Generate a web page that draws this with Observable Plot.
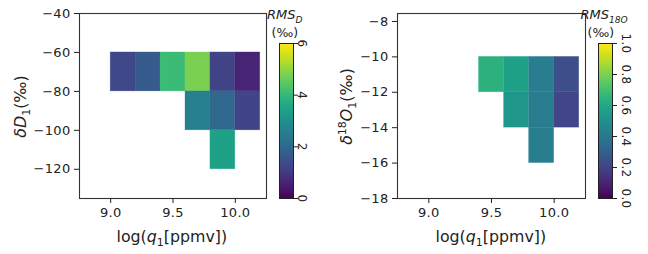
<!DOCTYPE html>
<html>
<head>
<meta charset="utf-8">
<script src="https://cdn.jsdelivr.net/npm/d3@7"></script>
<script src="https://cdn.jsdelivr.net/npm/@observablehq/plot@0.6"></script>
<style>
  html, body { margin: 0; padding: 0; background: white; }
  #fig { position: relative; width: 648px; height: 254px; font-family: "DejaVu Sans", sans-serif; color: #222; overflow: hidden; }
  .lbl { position: absolute; white-space: nowrap; transform-origin: center center; }
  sub, sup { font-size: 70%; line-height: 0; }
</style>
</head>
<body>
<div id="fig"></div>
<script>
// ---- Data ----
// Left panel: deltaD
const xTicks = [9.0, 9.5, 10.0];
const dTicks = [-120, -100, -80, -60, -40];
const dBinX = 0.2, dBinY = 20;
const dCellX = [9.0, 9.2, 9.4, 9.6, 9.8, 10.0, 9.6, 9.8, 10.0, 9.8];
const dCellY = [-60, -60, -60, -60, -60, -60, -80, -80, -80, -100]; // top of bin
const dRMS   = [1.3, 1.7, 4.1, 4.8, 1.2, 0.6, 2.6, 2.0, 1.2, 3.4];
const dColorTicks = [0, 2, 4, 6];

// Right panel: delta18O
const oTicks = [-18, -16, -14, -12, -10, -8];
const oBinX = 0.2, oBinY = 2;
const oCellX = [9.4, 9.6, 9.8, 10.0, 9.6, 9.8, 10.0, 9.8];
const oCellY = [-10, -10, -10, -10, -12, -12, -12, -14]; // top of bin
const oRMS   = [0.64, 0.57, 0.42, 0.24, 0.53, 0.42, 0.21, 0.42];
const oColorTicks = [0.0, 0.2, 0.4, 0.6, 0.8, 1.0];

const dCells = dCellX.map((x, i) => ({x, y: dCellY[i], v: dRMS[i]}));
const oCells = oCellX.map((x, i) => ({x, y: oCellY[i], v: oRMS[i]}));

const fig = document.getElementById("fig");
const style = {fontFamily: "DejaVu Sans", fontSize: "13px", color: "#222", background: "transparent", letterSpacing: "0.3px"};
const fmtInt = d3.format("d");
const fmt1 = d3.format(".1f");

function place(el, left, top) {
  el.style.position = "absolute";
  el.style.left = left + "px";
  el.style.top = top + "px";
  fig.appendChild(el);
}

function panel({cells, binX, binY, yDomain, yTicks, cmax, width, ml, mr}) {
  return Plot.plot({
    width, height: 254, marginLeft: ml, marginRight: mr, marginTop: 13, marginBottom: 56,
    style,
    x: {domain: [8.75, 10.25]},
    y: {domain: yDomain},
    color: {type: "linear", scheme: "viridis", domain: [0, cmax]},
    marks: [
      Plot.rect(cells, {x1: "x", x2: d => d.x + binX, y1: "y", y2: d => d.y - binY, fill: "v", stroke: "v", strokeOpacity: 0.4, strokeWidth: 0.6}),
      Plot.frame({stroke: "#333", strokeWidth: 1.1}),
      Plot.axisX({ticks: xTicks, tickFormat: fmt1, tickSize: 5, tickPadding: 4, label: null}),
      Plot.axisY({ticks: yTicks, tickFormat: fmtInt, tickSize: 5, tickPadding: 4, label: null})
    ]
  });
}

function colorbar({cmax, ticks, fmt, ml, width, dx}) {
  return Plot.plot({
    width, height: 254, marginLeft: ml, marginRight: width - ml - 14, marginTop: 43, marginBottom: 56,
    style: {...style, fontSize: "12px"},
    x: {domain: [0, 1], axis: null},
    y: {domain: [0, cmax], axis: null},
    color: {type: "linear", scheme: "viridis", domain: [0, cmax]},
    marks: [
      Plot.raster({x1: 0, x2: 1, y1: 0, y2: cmax, width: 1, height: 256, fill: (x, y) => y, imageRendering: "auto"}),
      Plot.frame({stroke: "#222", strokeWidth: 1}),
      Plot.axisY({anchor: "right", ticks, tickFormat: () => "", tickSize: 4, label: null}),
      Plot.text(ticks, {y: d => d, frameAnchor: "right", dx, rotate: 90, text: d => fmt(d), textAnchor: "middle", lineAnchor: "middle", fill: "#222"})
    ]
  });
}

// Left
place(panel({cells: dCells, binX: dBinX, binY: dBinY, yDomain: [-135, -40], yTicks: dTicks, cmax: 6, width: 270, ml: 79, mr: 4}), 0, 0);
place(colorbar({cmax: 6, ticks: dColorTicks, fmt: fmtInt, ml: 9, width: 45, dx: 8}), 270, 0);
// Right
place(panel({cells: oCells, binX: oBinX, binY: oBinY, yDomain: [-18, -7.55], yTicks: oTicks, cmax: 1, width: 260, ml: 67, mr: 5}), 330, 0);
place(colorbar({cmax: 1, ticks: oColorTicks, fmt: fmt1, ml: 8, width: 50, dx: 13}), 590, 0);

// Labels (HTML for math-style italics, sub/superscripts)
function label(html, cx, cy, size, rot) {
  const el = document.createElement("div");
  el.className = "lbl";
  el.style.fontSize = size + "px";
  el.innerHTML = html;
  fig.appendChild(el);
  const w = el.offsetWidth, h = el.offsetHeight;
  el.style.left = (cx - w / 2) + "px";
  el.style.top = (cy - h / 2) + "px";
  if (rot) el.style.transform = `rotate(${rot}deg)`;
}
label('log(<i>q</i><sub>1</sub>[ppmv])', 172, 236, 15.8, 0);
label('log(<i>q</i><sub>1</sub>[ppmv])', 491, 236, 15.8, 0);
label('<i>δD</i><sub>1</sub>(‰)', 20, 106, 15.8, -90);
label('<i>δ</i><sup>18</sup><i>O</i><sub>1</sub>(‰)', 346, 106, 15.8, -90);
label('<i>RMS</i><sub><i>D</i></sub>', 285, 14, 13, 0);
label('(‰)', 285, 32, 12.5, 0);
label('<i>RMS</i><sub><i>18O</i></sub>', 604, 14, 13, 0);
label('(‰)', 601, 32, 12.5, 0);
</script>
</body>
</html>
